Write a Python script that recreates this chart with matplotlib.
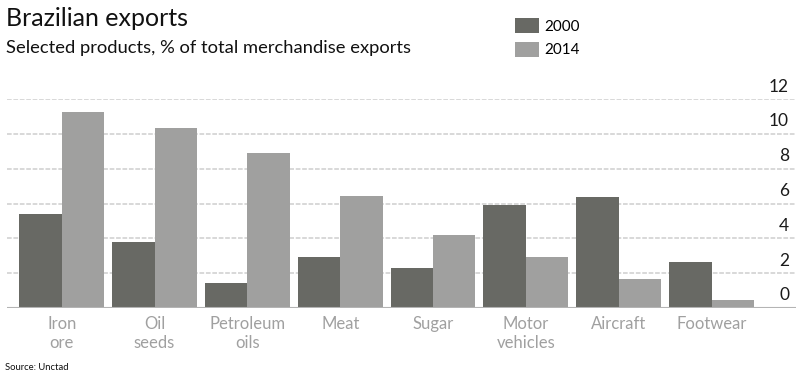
import matplotlib
matplotlib.use("Agg")
import matplotlib.pyplot as plt
import matplotlib.transforms as mtransforms
import numpy as np

categories = ["Iron\nore", "Oil\nseeds", "Petroleum\noils", "Meat", "Sugar",
              "Motor\nvehicles", "Aircraft", "Footwear"]
share_2000 = [5.4, 3.8, 1.45, 2.95, 2.3, 5.9, 6.35, 2.65]
share_2014 = [11.25, 10.35, 8.9, 6.45, 4.2, 2.95, 1.65, 0.45]
yticks = [0, 2, 4, 6, 8, 10, 12]

C2000 = "#686964"
C2014 = "#a0a09f"
FONT = "Lato"

fig = plt.figure(figsize=(7.96, 3.76), dpi=100)
ax = fig.add_axes([7 / 796, 68 / 376, 789 / 796, 209 / 376])

x = np.arange(len(categories))
w = 0.457
b1 = ax.bar(x - w / 2, share_2000, w, color=C2000, label="2000", zorder=3)
b2 = ax.bar(x + w / 2, share_2014, w, color=C2014, label="2014", zorder=3)

ax.set_xlim(-0.59, 7.91)
ax.set_ylim(0, 12)
for s in ax.spines.values():
    s.set_visible(False)
ax.axhline(0, color="#b4b4b4", lw=1.5, zorder=4)
ax.set_yticks(yticks)
ax.yaxis.grid(True, color="#d8d8d8", lw=1.4, linestyle=(0, (2.4, 0.9)), zorder=0)
ax.yaxis.tick_right()
ax.tick_params(axis="y", length=0, pad=-5, labelsize=12.5, labelcolor="#1a1a1a")
off = mtransforms.ScaledTranslation(0, 14 / 100, fig.dpi_scale_trans)
for lab in ax.get_yticklabels():
    lab.set_horizontalalignment("right")
    lab.set_fontfamily(FONT)
    lab.set_transform(lab.get_transform() + off)

ax.set_xticks(x)
ax.set_xticklabels(categories, fontfamily=FONT, fontsize=12,
                   color="#a0a0a0", linespacing=1.2, va="top")
ax.tick_params(axis="x", length=0, pad=6)

fig.text(6 / 796, 1 - 18 / 376, "Brazilian exports", fontsize=18, family=FONT,
         va="center", color="#111111")
fig.text(6 / 796, 1 - 48 / 376, "Selected products, % of total merchandise exports",
         fontsize=13.2, family=FONT, va="center", color="#111111")
fig.text(5 / 796, 1 - 368 / 376, "Source: Unctad", fontsize=6.8, family=FONT,
         va="center", color="#111111")

fig.legend(handles=[b1, b2], loc="upper left", bbox_to_anchor=(515 / 796, 1 - 18 / 376),
           frameon=False, prop={"family": FONT, "size": 11},
           handlelength=1.6, handleheight=1.1, handletextpad=0.35,
           labelspacing=0.55, borderpad=0, borderaxespad=0)

fig.savefig("out.png", dpi=100)
